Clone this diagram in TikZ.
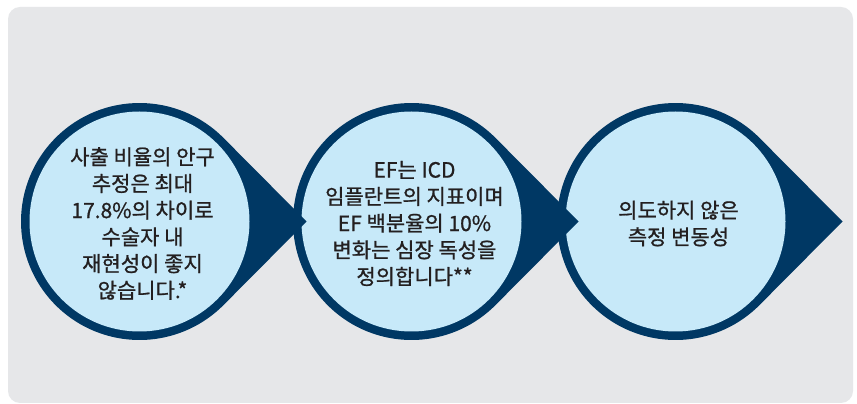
\documentclass[tikz,border=0pt]{standalone}
\usepackage{fontspec}
\newfontfamily\kr[FakeBold=0.9]{Noto Sans CJK KR}
\usetikzlibrary{calc}
\definecolor{navy}{RGB}{0,56,100}
\definecolor{lightblue}{RGB}{199,233,249}
\definecolor{panel}{RGB}{230,231,233}
\definecolor{ink}{RGB}{35,31,32}
\tikzset{
  teardrop/.style={fill=navy},
  inner/.style={fill=lightblue},
  label/.style={font=\kr\fontsize{21pt}{26.7pt}\selectfont, text=ink, align=center, inner sep=0pt},
}
\newcommand{\stage}[1]{%
  \fill[teardrop, shift={(#1)}] (167pt,0pt) -- (44.8:118.5pt) arc[start angle=44.8, end angle=315.2, radius=118.5pt] -- cycle;
  \fill[inner] (#1) circle[radius=110pt];
}
\begin{document}
\begin{tikzpicture}[x=1pt,y=1pt]
\useasboundingbox (0,0) rectangle (857,404);
\fill[white] (0,0) rectangle (857,404);
\fill[panel, rounded corners=12pt] (8,1) rectangle (853,397);
\coordinate (c1) at (139.5,182.5);
\coordinate (c2) at (411.5,182.5);
\coordinate (c3) at (675.5,182.5);
\stage{c3}
\stage{c2}
\stage{c1}
\node[label] (t1) at ($(c1)+(3,-2)$) {사출 비율의 안구\\추정은 최대\\17.8\%의 차이로\\수술자 내\\재현성이 좋지\\않습니다.*};
\node[label] (t2) at ($(c2)+(3,-2)$) {EF는 ICD\\임플란트의 지표이며\\EF 백분율의 10\%\\변화는 심장 독성을\\정의합니다**};
\node[label] (t3) at ($(c3)+(3,-2)$) {의도하지 않은\\측정 변동성};
\end{tikzpicture}
\end{document}
